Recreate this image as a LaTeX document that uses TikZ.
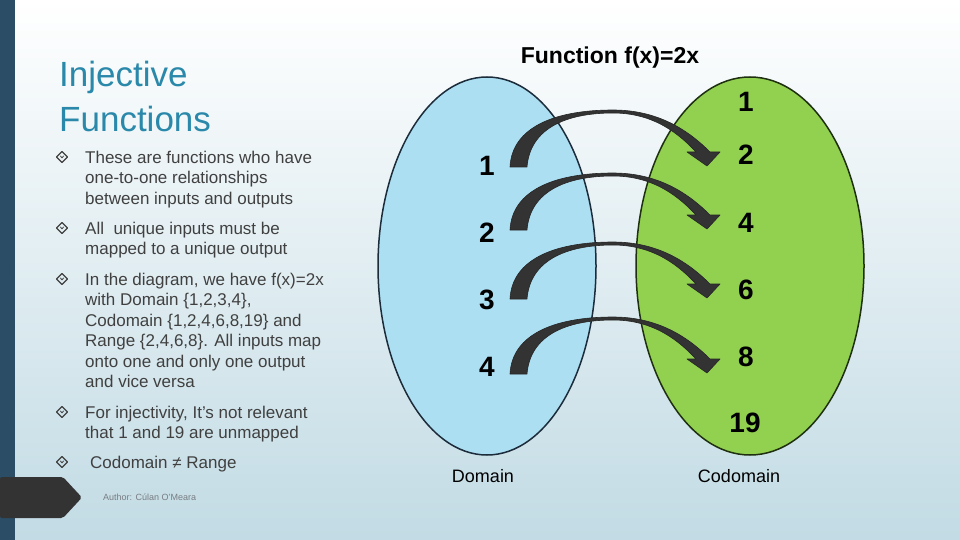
\documentclass[tikz,border=0pt]{standalone}
\usepackage{fontspec}
\setmainfont{Liberation Sans}
\usetikzlibrary{calc}
\definecolor{bgbot}{RGB}{194,219,228}
\definecolor{barc}{RGB}{43,78,102}
\definecolor{tagc}{RGB}{51,51,51}
\definecolor{titc}{RGB}{42,136,170}
\definecolor{txtc}{RGB}{64,64,64}
\definecolor{authc}{RGB}{120,125,130}
\definecolor{bluef}{RGB}{173,223,243}
\definecolor{greenf}{RGB}{146,208,80}
\definecolor{arrc}{RGB}{51,51,51}
\definecolor{bluel}{RGB}{28,44,58}
\definecolor{greenl}{RGB}{30,48,16}
\tikzset{
  titletxt/.style={anchor=base west, inner sep=0pt, text=titc, font=\fontsize{35}{40}\selectfont},
  btxt/.style={anchor=north west, inner sep=0pt, align=left, text=txtc, font=\fontsize{17}{20.5}\selectfont},
  num/.style={inner sep=0pt, font=\fontsize{28}{30}\selectfont\bfseries},
  lbl/.style={inner sep=0pt, font=\fontsize{18}{20}\selectfont},
  bulpic/.pic={
    \draw[txtc, line width=1.3pt, line join=round] (-5.5,0) -- (0,-5.5) -- (5.5,0) -- (0,5.5) -- cycle;
    \draw[txtc, line width=0.8pt] (-1.8,-1.2) -- (0,0.8) -- (1.8,-1.2);
  },
  curarr/.pic={
    \fill[arrc, draw=black!85, line width=0.6pt, line join=round]
      (0,0) .. controls (2,-40) and (45,-57) .. (103,-57)
      .. controls (150,-57) and (180,-35) .. (200,-15)
      -- (210,-15) -- (197,-1) -- (177,-15) -- (186,-15)
      .. controls (170,-32) and (145,-54) .. (103,-54)
      .. controls (55,-54) and (20,-38) .. (17,0) -- cycle;
  }
}
\begin{document}
\begin{tikzpicture}[x=1pt,y=-1pt]
\useasboundingbox (0,0) rectangle (960,540);
% background
\shade[top color=white, bottom color=bgbot] (0,0) rectangle (960,540);
\fill[barc] (0,0) rectangle (15,540);
\fill[tagc, rounded corners=2pt] (0,477) -- (63,477) -- (82,497.5) -- (63,518) -- (0,518) -- cycle;

% title
\node[titletxt] (t1) at (59,87) {Injective};
\node[titletxt] (t2) at (59,132) {Functions};

% bullets
\pic at (62,157) {bulpic};
\node[btxt] (p1) at (85,148.6) {\strut These are functions who have\\one-to-one relationships\\between inputs and outputs};
\pic at (62,228) {bulpic};
\node[btxt] (p2) at (85,219.6) {\strut All\ \ unique inputs must be\\mapped to a unique output};
\pic at (62,279) {bulpic};
\node[btxt] (p3) at (85,270.6) {\strut In the diagram, we have f(x)=2x\\with Domain \{1,2,3,4\},\\Codomain \{1,2,4,6,8,19\} and\\Range \{2,4,6,8\}. All inputs map\\onto one and only one output\\and vice versa};
\pic at (62,412) {bulpic};
\node[btxt] (p4) at (85,403.6) {\strut For injectivity, It’s not relevant\\that 1 and 19 are unmapped};
\pic at (62,462) {bulpic};
\node[btxt] (p5) at (90,453.6) {\strut Codomain ≠ Range};

\node[inner sep=0pt, anchor=west, text=authc, font=\fontsize{9}{10}\selectfont] (auth) at (103,497) {Author: Cúlan O'Meara};

% diagram
\node[inner sep=0pt, font=\fontsize{23}{26}\selectfont\bfseries] (ftitle) at (610,58) {Function f(x)=2x};

\filldraw[fill=bluef, draw=bluel, line width=1.5pt] (487,266) ellipse [x radius=109, y radius=189];
\filldraw[fill=greenf, draw=greenl, line width=1.5pt] (750,266) ellipse [x radius=114, y radius=189];

\node[num] (d1) at (487,166) {1};
\node[num] (d2) at (487,233) {2};
\node[num] (d3) at (487,300) {3};
\node[num] (d4) at (487,367) {4};

\node[num] (c1) at (746,102) {1};
\node[num] (c2) at (746,155) {2};
\node[num] (c4) at (746,223) {4};
\node[num] (c6) at (746,290) {6};
\node[num] (c8) at (746,357) {8};
\node[num] (c19) at (745,423) {19};

\pic at ($(d1)+(23,1)$) {curarr};
\pic at ($(d2)+(23,-3)$) {curarr};
\pic at ($(d3)+(23,-1)$) {curarr};
\pic at ($(d4)+(23,7)$) {curarr};

\node[lbl] (dom) at (483,476) {Domain};
\node[lbl] (cod) at (739,476) {Codomain};
\end{tikzpicture}
\end{document}
